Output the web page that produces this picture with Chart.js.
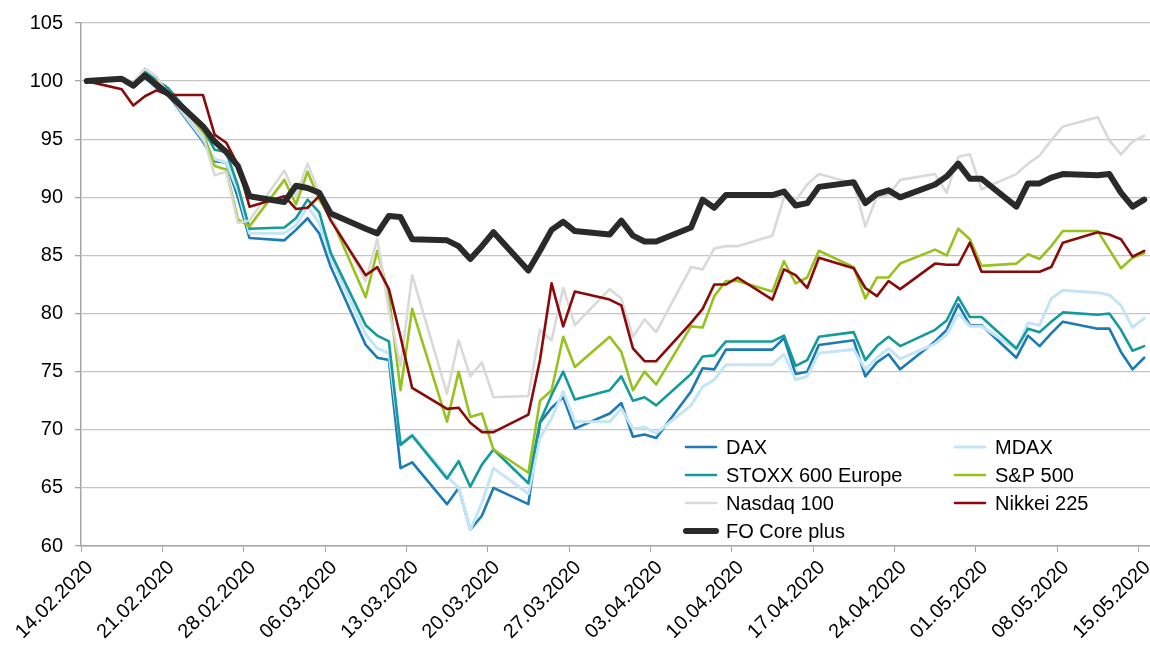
<!DOCTYPE html>
<html>
<head>
<meta charset="utf-8">
<script src="https://cdn.jsdelivr.net/npm/chart.js@4.4.1/dist/chart.umd.min.js"></script>
<style>
  html, body { margin: 0; padding: 0; background: #fff; }
</style>
</head>
<body>
<canvas id="chart" width="1150" height="646"></canvas>
<script>
// Handelstage (Werktage), Index 14.02.2020 = 100
const dates = [
  '14.02.2020', '17.02.2020', '18.02.2020', '19.02.2020', '20.02.2020', '21.02.2020',
  '24.02.2020', '25.02.2020', '26.02.2020', '27.02.2020', '28.02.2020',
  '02.03.2020', '03.03.2020', '04.03.2020', '05.03.2020', '06.03.2020',
  '09.03.2020', '10.03.2020', '11.03.2020', '12.03.2020', '13.03.2020',
  '16.03.2020', '17.03.2020', '18.03.2020', '19.03.2020', '20.03.2020',
  '23.03.2020', '24.03.2020', '25.03.2020', '26.03.2020', '27.03.2020',
  '30.03.2020', '31.03.2020', '01.04.2020', '02.04.2020', '03.04.2020',
  '06.04.2020', '07.04.2020', '08.04.2020', '09.04.2020', '10.04.2020',
  '13.04.2020', '14.04.2020', '15.04.2020', '16.04.2020', '17.04.2020',
  '20.04.2020', '21.04.2020', '22.04.2020', '23.04.2020', '24.04.2020',
  '27.04.2020', '28.04.2020', '29.04.2020', '30.04.2020', '01.05.2020',
  '04.05.2020', '05.05.2020', '06.05.2020', '07.05.2020', '08.05.2020',
  '11.05.2020', '12.05.2020', '13.05.2020', '14.05.2020', '15.05.2020'
];

const tickLabels = [
  '14.02.2020', '21.02.2020', '28.02.2020', '06.03.2020', '13.03.2020', '20.03.2020', '27.03.2020',
  '03.04.2020', '10.04.2020', '17.04.2020', '24.04.2020', '01.05.2020', '08.05.2020', '15.05.2020'
];

const dax = [
  100.0, 100.3, 99.5, 100.3, 99.4, 98.8, 94.8, 93.1, 93.0, 90.0, 86.5,
  86.3, 87.2, 88.2, 86.9, 84.0, 77.3, 76.2, 76.0, 66.7, 67.2, 63.6, 65.0, 61.4, 62.6, 65.0,
  63.6, 70.6, 71.9, 72.8, 70.1, 71.4, 72.3,
  69.4, 69.6, 69.3, 73.3, 75.3, 75.2, 76.9, 76.9, 76.9, 77.9, 74.8, 75.0, 77.3,
  77.7, 74.6, 75.8, 76.5, 75.2, 77.6, 78.6, 80.8, 79.0,
  79.0, 76.2, 78.1, 77.2, 78.3, 79.3, 78.7, 78.7, 76.7, 75.2, 76.2
];
const mdax = [
  100.0, 100.2, 99.7, 100.6, 99.8, 98.9, 95.0, 93.3, 93.0, 90.6, 86.9,
  86.9, 87.6, 89.2, 87.8, 84.8, 78.2, 77.0, 76.6, 68.8, 69.6, 66.0, 65.0, 61.4, 63.7, 66.7,
  64.5, 69.3, 71.0, 73.3, 70.7, 70.7, 71.8,
  70.1, 70.2, 69.7, 72.1, 73.7, 74.3, 75.6, 75.6, 75.6, 76.5, 74.3, 74.6, 76.6,
  76.9, 75.2, 76.2, 77.0, 76.1, 77.4, 78.2, 80.0, 78.9,
  78.9, 76.9, 79.2, 79.0, 81.3, 82.0, 81.8, 81.6, 80.7, 78.8, 79.6
];
const stoxx = [
  100.0, 100.2, 99.8, 100.8, 100.1, 99.4, 95.9, 94.1, 93.9, 91.0, 87.3,
  87.4, 88.2, 89.8, 88.7, 85.2, 79.0, 78.1, 77.6, 68.7, 69.5, 65.8, 67.3, 65.1, 67.0, 68.3,
  65.4, 70.7, 73.0, 75.0, 72.6, 73.4, 74.6,
  72.5, 72.8, 72.1, 74.8, 76.3, 76.4, 77.6, 77.6, 77.6, 78.1, 75.5, 76.0, 78.0,
  78.4, 76.0, 77.2, 78.0, 77.2, 78.6, 79.4, 81.4, 79.7,
  79.7, 77.0, 78.7, 78.4, 79.3, 80.1, 79.9, 80.0, 78.6, 76.8, 77.2
];
const sp500 = [
  100.0, 100.2, 99.9, 100.4, 100.0, 99.0, 95.6, 92.7, 92.4, 88.1, 87.5,
  91.5, 89.4, 92.2, 89.8, 88.3, 81.4, 85.4, 81.5, 73.4, 80.4, 70.7, 75.0, 71.1, 71.4, 68.3,
  66.3, 72.5, 73.4, 78.0, 75.4, 78.0, 76.7,
  73.4, 75.0, 73.9, 78.9, 78.8, 81.5, 82.8, 82.8, 81.9, 84.5, 82.6, 83.1, 85.4,
  84.0, 81.3, 83.1, 83.1, 84.3, 85.5, 85.0, 87.3, 86.4,
  84.1, 84.3, 85.1, 84.7, 85.8, 87.1, 87.1, 85.5, 83.9, 84.8, 85.2
];
const nasdaq = [
  100.0, 100.2, 99.9, 101.1, 100.4, 98.9, 95.3, 91.9, 92.2, 87.8, 88.0,
  92.3, 90.1, 92.9, 90.4, 88.4, 82.8, 86.4, 80.3, 75.5, 83.3, 73.1, 77.7, 74.6, 75.8, 72.8,
  72.9, 78.6, 77.7, 82.2, 79.0, 82.1, 81.3,
  78.0, 79.5, 78.4, 84.0, 83.8, 85.6, 85.8, 85.8, 86.7, 90.0, 89.7, 91.1, 92.0,
  91.2, 87.5, 90.1, 90.2, 91.5, 92.0, 90.4, 93.5, 93.7,
  90.7, 92.0, 92.9, 93.6, 94.9, 96.1, 96.9, 94.9, 93.7, 94.8, 95.3
];
const nikkei = [
  100.0, 99.3, 97.9, 98.7, 99.2, 98.8, 98.8, 95.4, 94.7, 92.8, 89.2,
  90.1, 89.0, 89.1, 90.1, 88.0, 83.3, 84.0, 82.1, 78.0, 73.6, 71.8, 71.9, 70.6, 69.8, 69.8,
  71.3, 76.0, 82.6, 78.9, 81.9, 81.2, 80.7,
  77.0, 75.9, 75.9, 79.2, 80.4, 82.5, 82.5, 83.1, 81.2, 83.8, 83.3, 82.2, 84.8,
  83.9, 82.2, 81.5, 82.8, 82.1, 84.3, 84.2, 84.2, 86.1,
  83.6, 83.6, 83.6, 83.6, 84.0, 86.1, 87.0, 86.8, 86.4, 84.9, 85.4
];
const foCorePlus = [
  100.0, 100.2, 99.6, 100.5, 99.7, 98.9, 96.1, 94.8, 93.9, 92.7, 90.1,
  89.6, 91.0, 90.8, 90.4, 88.6, 87.3, 86.9, 88.4, 88.3, 86.4, 86.3, 85.8, 84.7, 85.8, 87.0,
  83.7, 85.4, 87.2, 87.9, 87.1, 86.8, 88.0,
  86.7, 86.2, 86.2, 87.4, 89.8, 89.1, 90.2, 90.2, 90.2, 90.5, 89.3, 89.5, 90.9,
  91.3, 89.5, 90.3, 90.6, 90.0, 91.1, 91.8, 92.9, 91.6,
  91.6, 89.2, 91.2, 91.2, 91.7, 92.0, 91.9, 92.0, 90.4, 89.2, 89.8
];

// Tage seit 14.02.2020
function dayOffset(s) {
  const [d, m, y] = s.split('.').map(Number);
  return (Date.UTC(y, m - 1, d) - Date.UTC(2020, 1, 14)) / 86400000;
}
const xs = dates.map(d => dayOffset(d) + 0.5);
const tickDays = tickLabels.map(dayOffset);
const toPoints = values => values.map((v, i) => ({ x: xs[i], y: v }));

const series = [
  { label: 'DAX', data: dax, color: '#1c7ab5', width: 2.6 },
  { label: 'MDAX', data: mdax, color: '#c3e5f6', width: 3 },
  { label: 'STOXX 600 Europe', data: stoxx, color: '#139a9a', width: 2.6 },
  { label: 'S&P 500', data: sp500, color: '#97c21e', width: 2.6 },
  { label: 'Nasdaq 100', data: nasdaq, color: '#d9d9d9', width: 2.6 },
  { label: 'Nikkei 225', data: nikkei, color: '#8a0a0a', width: 2.6 },
  { label: 'FO Core plus', data: foCorePlus, color: '#2a2a2a', width: 6 }
];

const fontFamily = '"Liberation Sans", Arial, sans-serif';

// Legende in zwei Spalten im Diagrammbereich
const gridLegend = {
  id: 'gridLegend',
  afterDraw(chart) {
    const ctx = chart.ctx;
    const cols = [686, 955];
    chart.data.datasets.forEach((ds, i) => {
      const x = cols[i % 2];
      const y = 447 + Math.floor(i / 2) * 28;
      ctx.save();
      ctx.strokeStyle = ds.borderColor;
      ctx.lineWidth = ds.borderWidth;
      ctx.lineCap = 'round';
      ctx.beginPath();
      ctx.moveTo(x, y);
      ctx.lineTo(x + 30, y);
      ctx.stroke();
      ctx.fillStyle = '#000';
      ctx.font = '20px ' + fontFamily;
      ctx.textBaseline = 'middle';
      ctx.fillText(ds.label, x + 40, y + 1);
      ctx.restore();
    });
  }
};

new Chart(document.getElementById('chart'), {
  type: 'line',
  data: {
    datasets: series.map((s, i) => ({
      label: s.label,
      data: toPoints(s.data),
      borderColor: s.color,
      backgroundColor: s.color,
      borderWidth: s.width,
      order: series.length - 1 - i
    }))
  },
  options: {
    responsive: false,
    animation: false,
    layout: { padding: { top: 23, right: 0, left: 0, bottom: 0 } },
    elements: {
      point: { radius: 0 },
      line: { tension: 0, borderJoinStyle: 'round', borderCapStyle: 'round' }
    },
    plugins: {
      legend: { display: false },
      tooltip: { enabled: false }
    },
    scales: {
      x: {
        type: 'linear',
        min: 0,
        max: 92,
        afterBuildTicks: scale => { scale.ticks = tickDays.map(v => ({ value: v })); },
        afterFit: scale => { scale.height = 100; scale.paddingLeft = 0; scale.paddingRight = 0; },
        grid: { drawOnChartArea: false, drawTicks: true, tickLength: 6, color: '#a6a6a6' },
        border: { color: '#a6a6a6', width: 1.5 },
        ticks: {
          autoSkip: false,
          minRotation: 45,
          maxRotation: 45,
          labelOffset: 9,
          padding: 4,
          color: '#000',
          font: { family: fontFamily, size: 20 },
          callback: (v, i) => tickLabels[i]
        }
      },
      y: {
        min: 60,
        max: 105,
        afterFit: scale => { scale.width = 81; scale.paddingTop = 0; scale.paddingBottom = 0; },
        grid: { color: '#c4c4c4', lineWidth: 1.3, tickLength: 6, tickColor: '#a6a6a6' },
        border: { color: '#a6a6a6', width: 1.5 },
        ticks: {
          stepSize: 5,
          padding: 12,
          color: '#000',
          font: { family: fontFamily, size: 20 }
        }
      }
    }
  },
  plugins: [gridLegend]
});
</script>
</body>
</html>
